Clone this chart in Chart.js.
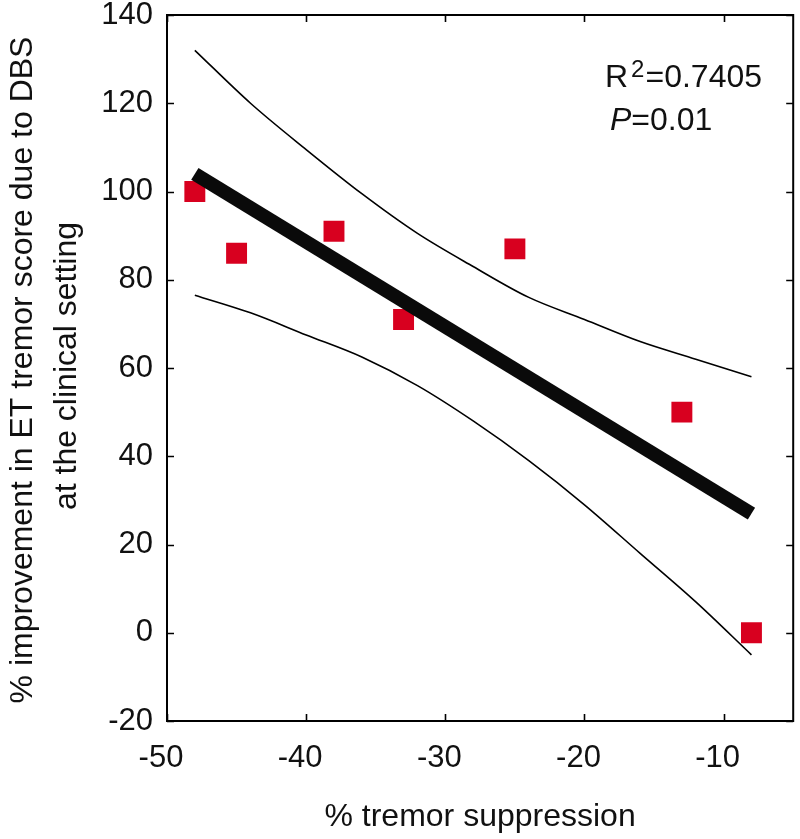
<!DOCTYPE html>
<html>
<head>
<meta charset="utf-8">
<script src="https://cdn.jsdelivr.net/npm/chart.js@4"></script>
<style>
  html, body { margin: 0; padding: 0; background: #ffffff; overflow: hidden; }
  #wrap { width: 800px; height: 839px; overflow: hidden; }
</style>
</head>
<body>
<div id="wrap"><canvas id="c" width="808" height="839"></canvas></div>
<script>
// ---- data ----
const xValues = [-48, -45, -38, -33, -25, -13, -8];
const yValues = [100, 86, 91, 71, 87, 50, 0];

const fitX = [-48, -8];
const fitY = [104, 27];

const bandX  = [-48, -44, -40, -36, -32, -28, -24, -20, -16, -12, -8];
const upperY = [132, 120, 109.5, 99.5, 90.5, 83, 76, 71, 66, 62, 58];
const lowerY = [76.5, 72.5, 67.5, 62.5, 56, 48, 39, 29, 18, 7, -5];

const xTicks = [-50, -40, -30, -20, -10];
const yTicks = [-20, 0, 20, 40, 60, 80, 100, 120, 140];

const xTitle = '% tremor suppression';
const yTitle = ['% improvement in ET tremor score due to DBS', 'at the clinical setting'];

const FONT = '"Liberation Sans", Arial, Helvetica, sans-serif';

const toPts = (xs, ys) => xs.map((x, i) => ({ x: x, y: ys[i] }));

const framePlugin = {
  id: 'frame',
  afterDraw(chart) {
    const ctx = chart.ctx;
    const a = chart.chartArea;
    const xs = chart.scales.x, ys = chart.scales.y;
    ctx.save();
    ctx.strokeStyle = '#000';
    ctx.lineWidth = 2;
    ctx.strokeRect(a.left, a.top, a.right - a.left, a.bottom - a.top);
    const tl = 7;
    ctx.beginPath();
    xTicks.forEach(v => {
      const px = Math.round(xs.getPixelForValue(v)) + 0.5;
      ctx.moveTo(px, a.bottom); ctx.lineTo(px, a.bottom - tl);
      ctx.moveTo(px, a.top); ctx.lineTo(px, a.top + tl);
    });
    yTicks.forEach(v => {
      const py = Math.round(ys.getPixelForValue(v)) + 0.5;
      ctx.moveTo(a.left, py); ctx.lineTo(a.left + tl, py);
      ctx.moveTo(a.right, py); ctx.lineTo(a.right - tl, py);
    });
    ctx.lineWidth = 1.6;
    ctx.stroke();

    // axis titles
    ctx.fillStyle = '#111';
    ctx.font = '32px ' + FONT;
    ctx.textAlign = 'center';
    ctx.textBaseline = 'alphabetic';
    ctx.fillText(xTitle, (a.left + a.right) / 2, 826);

    const cy = (a.top + a.bottom) / 2 + 2;
    ctx.save();
    ctx.translate(32, cy);
    ctx.rotate(-Math.PI / 2);
    ctx.fillText(yTitle[0], 0, 0);
    ctx.restore();
    ctx.save();
    ctx.translate(76, cy - 4);
    ctx.rotate(-Math.PI / 2);
    ctx.fillText(yTitle[1], 0, 0);
    ctx.restore();

    // annotation
    ctx.textAlign = 'left';
    let x = 605;
    ctx.font = '32px ' + FONT;
    ctx.fillText('R', x, 87);
    x += ctx.measureText('R').width + 3;
    ctx.font = '24px ' + FONT;
    ctx.fillText('2', x, 77);
    x += ctx.measureText('2').width + 1;
    ctx.font = '32px ' + FONT;
    ctx.fillText('=0.7405', x, 87);

    x = 610;
    ctx.font = 'italic 32px ' + FONT;
    ctx.fillText('P', x, 130);
    x += ctx.measureText('P').width;
    ctx.font = '32px ' + FONT;
    ctx.fillText('=0.01', x, 130);
    ctx.restore();
  }
};

new Chart(document.getElementById('c'), {
  type: 'scatter',
  data: {
    datasets: [
      {
        label: 'fit',
        data: toPts(fitX, fitY),
        showLine: true,
        borderColor: '#0a0a0a',
        borderWidth: 14,
        borderCapStyle: 'butt',
        pointRadius: 0
      },
      {
        label: 'data',
        data: toPts(xValues, yValues),
        showLine: false,
        pointStyle: 'rect',
        pointRadius: 14.8,
        pointBackgroundColor: '#d8001f',
        pointBorderColor: '#d8001f',
        pointBorderWidth: 0
      },
      {
        label: 'upper',
        data: toPts(bandX, upperY),
        showLine: true,
        borderColor: '#000',
        borderWidth: 1.6,
        pointRadius: 0,
        cubicInterpolationMode: 'monotone'
      },
      {
        label: 'lower',
        data: toPts(bandX, lowerY),
        showLine: true,
        borderColor: '#000',
        borderWidth: 1.6,
        pointRadius: 0,
        cubicInterpolationMode: 'monotone'
      }
    ]
  },
  options: {
    responsive: false,
    animation: false,
    devicePixelRatio: 1,
    layout: { padding: { left: 0, right: 7, top: 15, bottom: 0 } },
    plugins: { legend: { display: false }, tooltip: { enabled: false } },
    scales: {
      x: {
        type: 'linear',
        min: -50, max: -5,
        grid: { display: false, drawTicks: false },
        border: { display: false },
        afterBuildTicks: s => { s.ticks = xTicks.map(v => ({ value: v })); },
        afterFit: s => { s.height = 118; s.paddingLeft = 0; s.paddingRight = 0; },
        ticks: {
          font: { family: FONT, size: 31 },
          color: '#111',
          padding: 19,
          labelOffset: -6,
          maxRotation: 0,
          autoSkip: false
        }
      },
      y: {
        type: 'linear',
        min: -20, max: 140,
        grid: { display: false, drawTicks: false },
        border: { display: false },
        afterBuildTicks: s => { s.ticks = yTicks.map(v => ({ value: v })); },
        afterFit: s => { s.width = 167; s.paddingTop = 0; s.paddingBottom = 0; },
        ticks: {
          font: { family: FONT, size: 31 },
          color: '#111',
          padding: 14,
          autoSkip: false
        }
      }
    }
  },
  plugins: [framePlugin]
});
</script>
</body>
</html>
